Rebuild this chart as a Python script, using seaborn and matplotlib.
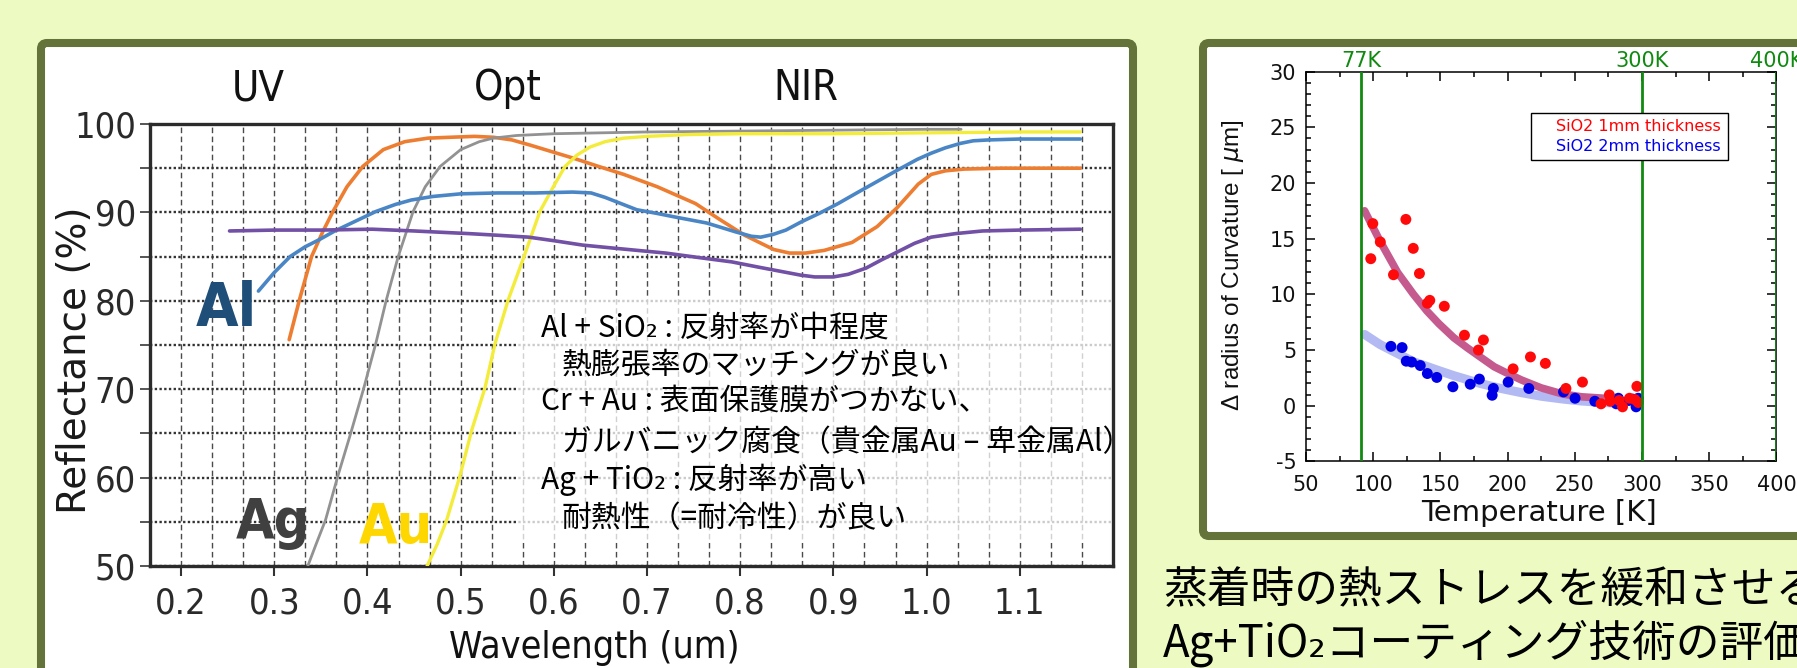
import numpy as np
import pandas as pd
import matplotlib
matplotlib.use("Agg")
import matplotlib.pyplot as plt
import seaborn as sns
from matplotlib import font_manager
from matplotlib.patches import FancyBboxPatch, Rectangle
from matplotlib.ticker import FixedLocator, MultipleLocator
from matplotlib.lines import Line2D

# ---------------- reflectance of mirror coatings (wavelength um, reflectance %) ----------------
orange_wl = [0.316, 0.327, 0.340, 0.352, 0.363, 0.378, 0.395, 0.417, 0.440, 0.465, 0.489, 0.515,
             0.535, 0.555, 0.575, 0.600, 0.622, 0.648, 0.675, 0.711, 0.752, 0.778, 0.805, 0.836,
             0.853, 0.870, 0.890, 0.920, 0.947, 0.969, 0.991, 1.005, 1.020, 1.040, 1.080, 1.120, 1.165]
orange_r = [75.6, 80.1, 85.0, 87.8, 90.1, 92.9, 95.2, 97.1, 98.0, 98.4, 98.5, 98.6,
            98.5, 98.2, 97.6, 96.8, 96.1, 95.2, 94.3, 92.9, 91.0, 89.2, 87.4, 85.8,
            85.4, 85.4, 85.7, 86.6, 88.4, 90.6, 93.2, 94.3, 94.7, 94.9, 95.0, 95.0, 95.0]

al_wl = [0.283, 0.300, 0.317, 0.333, 0.348, 0.365, 0.385, 0.409, 0.430, 0.447, 0.470, 0.500,
         0.540, 0.580, 0.620, 0.640, 0.655, 0.672, 0.689, 0.710, 0.729, 0.764, 0.795, 0.812,
         0.822, 0.835, 0.849, 0.865, 0.885, 0.905, 0.925, 0.947, 0.969, 0.990, 1.005, 1.020,
         1.036, 1.050, 1.067, 1.100, 1.165]
al_r = [81.1, 83.2, 85.0, 86.1, 86.9, 87.9, 88.9, 90.1, 90.9, 91.4, 91.8, 92.1,
        92.2, 92.2, 92.3, 92.2, 91.7, 91.0, 90.3, 89.9, 89.5, 88.8, 87.8, 87.3,
        87.2, 87.5, 88.0, 88.9, 89.9, 91.0, 92.2, 93.5, 94.8, 96.0, 96.7, 97.3,
        97.8, 98.1, 98.2, 98.3, 98.3]

purple_wl = [0.252, 0.300, 0.350, 0.405, 0.450, 0.509, 0.542, 0.573, 0.600, 0.631, 0.660, 0.690,
             0.720, 0.755, 0.791, 0.820, 0.845, 0.865, 0.880, 0.900, 0.916, 0.935, 0.951, 0.970,
             0.987, 1.005, 1.031, 1.060, 1.100, 1.165]
purple_r = [87.9, 88.0, 88.0, 88.1, 87.9, 87.6, 87.4, 87.2, 86.8, 86.3, 86.0, 85.7,
            85.4, 84.9, 84.4, 83.8, 83.3, 82.9, 82.7, 82.7, 83.0, 83.7, 84.6, 85.6,
            86.5, 87.2, 87.6, 87.9, 88.0, 88.1]

ag_wl = [0.336, 0.345, 0.355, 0.368, 0.382, 0.396, 0.409, 0.420, 0.433, 0.449, 0.462, 0.478,
         0.500, 0.520, 0.535, 0.560, 0.600, 0.700, 0.800, 0.900, 1.000, 1.037]
ag_r = [50.0, 52.5, 55.2, 60.1, 65.0, 70.1, 75.2, 80.0, 85.0, 90.1, 92.9, 95.2,
        97.1, 98.0, 98.4, 98.7, 98.9, 99.1, 99.2, 99.3, 99.4, 99.4]

au_wl = [0.464, 0.475, 0.485, 0.499, 0.512, 0.526, 0.537, 0.551, 0.568, 0.585, 0.600, 0.612,
         0.625, 0.639, 0.655, 0.675, 0.700, 0.742, 0.800, 0.900, 1.000, 1.100, 1.165]
au_r = [50.0, 52.5, 55.2, 60.1, 65.4, 70.1, 75.2, 80.1, 85.0, 90.1, 93.0, 95.2,
        96.5, 97.4, 98.0, 98.4, 98.6, 98.8, 98.9, 98.9, 99.0, 99.1, 99.1]

wl_ticks = [0.2, 0.3, 0.4, 0.5, 0.6, 0.7, 0.8, 0.9, 1.0, 1.1]
wl_tick_labels = ["0.2", "0.3", "0.4", "0.5", "0.6", "0.7", "0.8", "0.9", "1.0", "1.1"]
refl_ticks = [50, 60, 70, 80, 90, 100]
refl_tick_labels = ["50", "60", "70", "80", "90", "100"]

band_names = ["UV", "Opt", "NIR"]
band_centres = [0.283, 0.551, 0.870]

note_lines = [
    "Al + SiO₂ : 反射率が中程度",
    "熱膨張率のマッチングが良い",
    "Cr + Au : 表面保護膜がつかない、",
    "ガルバニック腐食（貴金属Au – 卑金属Al）",
    "Ag + TiO₂ : 反射率が高い",
    "耐熱性（=耐冷性）が良い",
]

# ---------------- change of radius of curvature vs temperature ----------------
red_temp = [98.2, 99.7, 105.3, 115.1, 124.3, 129.8, 134.4, 140.3, 142.1, 152.9, 167.9, 178.3,
            182.0, 204.1, 217.0, 228.1, 243.4, 255.7, 269.5, 275.7, 276.3, 283.0, 285.5, 290.7,
            294.7, 296.2, 297.2]
red_drc = [13.2, 16.35, 14.7, 11.76, 16.73, 14.13, 11.87, 9.2, 9.46, 8.93, 6.33, 5.0,
           5.9, 3.31, 4.38, 3.8, 1.55, 2.12, 0.17, 0.97, 0.4, 0.47, -0.1, 0.67,
           0.55, 1.74, 0.29]
blue_temp = [113.2, 121.5, 124.6, 128.6, 135.0, 140.3, 147.3, 159.3, 172.2, 179.0, 188.5, 189.4,
             200.4, 215.8, 241.6, 250.2, 264.9, 280.9, 282.4, 290.1, 293.2, 295.6, 297.2]
blue_drc = [5.33, 5.22, 4.0, 3.92, 3.61, 2.89, 2.54, 1.7, 1.93, 2.39, 0.94, 1.55,
            2.12, 1.55, 1.24, 0.67, 0.4, 0.17, 0.67, 0.47, 0.59, -0.1, 0.67]

red_fit_temp = [93.6, 105.0, 118.2, 130.0, 140.0, 148.9, 160.0, 170.0, 179.6, 190.0, 200.0,
                210.3, 225.0, 241.0, 255.0, 271.7]
red_fit_drc = [17.5, 14.8, 11.95, 10.0, 8.5, 7.36, 6.1, 5.2, 4.38, 3.5, 2.9,
               2.31, 1.6, 1.05, 0.8, 0.67]
blue_fit_temp = [93.6, 105.0, 118.2, 130.0, 148.9, 160.0, 179.6, 195.0, 210.3, 225.0, 241.0,
                 255.0, 271.7, 285.0]
blue_fit_drc = [6.4, 5.5, 4.68, 3.95, 3.15, 2.7, 2.0, 1.55, 1.17, 0.85, 0.6,
                0.42, 0.29, 0.18]

ref_temps = [91, 300, 400]
ref_temp_labels = ["77K", "300K", "400K"]
legend_labels = ["SiO2 1mm thickness", "SiO2 2mm thickness"]

caption_lines = ["蒸着時の熱ストレスを緩和させる", "Ag+TiO₂コーティング技術の評価"]

# ---------------- style ----------------
sns.set_theme(style="white")
plt.rcParams["font.family"] = ["DejaVu Sans"]
plt.rcParams["axes.unicode_minus"] = False

_STRETCH = {"ultra-condensed": 100, "extra-condensed": 200, "condensed": 300,
            "semi-condensed": 400, "normal": 500, "semi-expanded": 600, "expanded": 700,
            "extra-expanded": 800, "ultra-expanded": 900}
_WEIGHT = {"ultralight": 100, "light": 300, "normal": 400, "regular": 400, "book": 400,
           "medium": 500, "roman": 400, "semibold": 600, "demibold": 600, "demi": 600,
           "bold": 700, "heavy": 800, "extra bold": 800, "black": 900}


def _num(v, table, default):
    if isinstance(v, str):
        return table.get(v.lower(), default)
    return int(v)


def condensed_font(bold):
    """Pick an installed condensed sans face, regular or bold."""
    best = None
    for f in font_manager.fontManager.ttflist:
        st = _num(f.stretch, _STRETCH, 500)
        tag = f.name + " " + f.fname
        narrow = st < 500 or any(k in tag for k in ("Narrow", "Condensed", "Compressed"))
        if not narrow or f.style != "normal" or "Mono" in tag or "Serif" in tag:
            continue
        wt = _num(f.weight, _WEIGHT, 400)
        score = abs(wt - (700 if bold else 400))
        if best is None or score < best[0]:
            best = (score, f.fname)
    if best is not None:
        return font_manager.FontProperties(fname=best[1]), True
    return font_manager.FontProperties(family="Liberation Sans",
                                       weight="bold" if bold else "normal"), False


NARROW, HAVE_NARROW = condensed_font(False)
NARROW_BOLD, _ = condensed_font(True)
K = 1.0 if HAVE_NARROW else 0.86   # keep widths close when only a regular face exists


def nfont(size, bold=False):
    p = (NARROW_BOLD if bold else NARROW).copy()
    p.set_size(size * K)
    return p


JP = ["Noto Sans CJK JP", "DejaVu Sans"]
BG = "#EDFBC3"
FRAME = "#64733A"

W, H = 1797, 668
fig = plt.figure(figsize=(W / 100, H / 100), dpi=100)
fig.patch.set_facecolor(BG)

# page layer in pixel units (y downwards) for the framed panels and caption
page = fig.add_axes([0, 0, 1, 1])
page.set_xlim(0, W)
page.set_ylim(H, 0)
page.axis("off")
page.add_patch(FancyBboxPatch((41, 43), 1092, 700, boxstyle="round,pad=0,rounding_size=6",
                              fc="white", ec=FRAME, lw=5.8))
page.add_patch(FancyBboxPatch((1203, 43), 700, 493, boxstyle="round,pad=0,rounding_size=6",
                              fc="white", ec=FRAME, lw=5.8))
for i, line in enumerate(caption_lines):
    page.text(1163, 590 + i * 53, line, fontfamily=JP, fontsize=31.5, color="black",
              ha="left", va="center")

# ---------------- left panel: reflectance ----------------
axL = fig.add_axes([150 / W, 1 - 566 / H, 963 / W, 442 / H])
axL.set_facecolor("white")
axL.set_xlim(1 / 6, 1.2)
axL.set_ylim(50, 100)
axL.set_axisbelow(True)

axL.xaxis.set_major_locator(FixedLocator(wl_ticks))
axL.set_xticklabels(wl_tick_labels)
axL.xaxis.set_minor_locator(FixedLocator(np.arange(1 / 6, 1.2 + 1e-6, 1 / 30)))
axL.yaxis.set_major_locator(FixedLocator(refl_ticks))
axL.set_yticklabels(refl_tick_labels)
axL.yaxis.set_minor_locator(MultipleLocator(5))

axL.grid(axis="x", which="both", color="#4a4a4a", lw=1.0, ls=(0, (4, 2.5)))
axL.grid(axis="y", which="both", color="#333333", lw=1.7, ls=(0, (1, 1)))

axL.tick_params(axis="x", which="major", direction="out", length=7, width=1.5,
                color="#333333", pad=8, labelcolor="#2a2a2a", bottom=True)
axL.tick_params(axis="x", which="minor", length=0)
axL.tick_params(axis="y", which="both", direction="out", length=7, width=1.4,
                color="#555555", pad=3, labelcolor="#2a2a2a", left=True)
for lbl in axL.get_xticklabels() + axL.get_yticklabels():
    lbl.set_fontproperties(nfont(26))
for sp in axL.spines.values():
    sp.set_color("#2b2b2b")
    sp.set_linewidth(2.4)

axL.add_patch(Rectangle((0.5605, 52.6), 1.2 - 0.5605, 80.4 - 52.6, fc="white", ec="none",
                        alpha=0.75, zorder=1.5))

curves = [
    (orange_wl, orange_r, "#ED7D31", 2.6),
    (ag_wl, ag_r, "#929292", 2.0),
    (au_wl, au_r, "#F4EC3A", 2.4),
    (al_wl, al_r, "#4A86C5", 2.6),
    (purple_wl, purple_r, "#7150A5", 2.6),
]
for wl, r, col, lw in curves:
    df = pd.DataFrame({"wavelength": wl, "reflectance": r})
    sns.lineplot(data=df, x="wavelength", y="reflectance", ax=axL, color=col, lw=lw,
                 sort=False, estimator=None, zorder=3)

axL.set_xlabel("Wavelength (um)", fontproperties=nfont(27), color="#111111", va="center")
axL.xaxis.set_label_coords(0.461, -0.1855)
axL.set_ylabel("Reflectance (%)", fontfamily="DejaVu Sans", fontsize=28, color="#1a1a1a",
               va="center")
axL.yaxis.set_label_coords(-0.0774, 0.466)

for name, xc in zip(band_names, band_centres):
    axL.text(xc, 102.7, name, fontproperties=nfont(30), color="#111111",
             ha="center", va="baseline", clip_on=False)

axL.text(0.249, 77.15, "Al", fontproperties=nfont(44, True), color="#1F4E79",
         ha="center", va="baseline")
axL.text(0.299, 53.2, "Ag", fontproperties=nfont(40, True), color="#404040",
         ha="center", va="baseline")
axL.text(0.430, 52.6, "Au", fontproperties=nfont(40, True), color="#FFD700",
         ha="center", va="baseline")

note_x = [0.5863, 0.6088, 0.5863, 0.6088, 0.5863, 0.6088]
note_y = [76.9, 72.7, 68.6, 64.0, 59.7, 55.4]
for x, y, line in zip(note_x, note_y, note_lines):
    axL.text(x, y, line, fontfamily=JP, fontsize=21.5, color="black", ha="left",
             va="center", zorder=4, clip_on=False)

# ---------------- right panel: curvature change ----------------
axR = fig.add_axes([1306 / W, 1 - 461.4 / H, 470.4 / W, 389.8 / H])
axR.set_facecolor("white")
axR.set_xlim(50, 400)
axR.set_ylim(-5, 30)
axR.xaxis.set_major_locator(MultipleLocator(50))
axR.xaxis.set_minor_locator(MultipleLocator(25))
axR.yaxis.set_major_locator(MultipleLocator(5))
axR.yaxis.set_minor_locator(MultipleLocator(1))
axR.tick_params(which="both", direction="in", top=True, right=True, bottom=True, left=True,
                color="black", width=1.1, labelcolor="#111111", labelsize=15)
axR.tick_params(which="major", length=6.5)
axR.tick_params(which="minor", length=3.5)
axR.tick_params(axis="x", pad=10)
axR.tick_params(axis="y", pad=7)
for sp in axR.spines.values():
    sp.set_color("black")
    sp.set_linewidth(1.1)

sns.lineplot(x=blue_fit_temp, y=blue_fit_drc, ax=axR, color="#B3BAF3", lw=6.5,
             sort=False, estimator=None, solid_capstyle="round", zorder=2)
sns.lineplot(x=red_fit_temp, y=red_fit_drc, ax=axR, color="#C45A8E", lw=5.5,
             sort=False, estimator=None, solid_capstyle="round", zorder=2.5)
sns.scatterplot(x=blue_temp, y=blue_drc, ax=axR, color="#0000E6", s=62, edgecolor="none",
                zorder=4)
sns.scatterplot(x=red_temp, y=red_drc, ax=axR, color="#FF0A0A", s=62, edgecolor="none",
                zorder=4.5)

for t, lab in zip(ref_temps, ref_temp_labels):
    axR.axvline(t, color="#108A10", lw=2.0, zorder=5)
    axR.text(t, 1.011, lab, transform=axR.get_xaxis_transform(), color="#108A10",
             fontsize=15, ha="center", va="baseline", clip_on=False)

axR.set_xlabel("Temperature [K]", fontsize=21, color="#111111", va="center")
axR.xaxis.set_label_coords(0.4947, -0.1334)
axR.set_ylabel("Δ radius of Curvature [ $\\mu$m]", fontfamily="Liberation Sans", fontsize=17.5,
               color="#111111", va="center")
axR.yaxis.set_label_coords(-0.156, 0.504)

handles = [Line2D([], [], lw=0, label=lab) for lab in legend_labels]
leg = axR.legend(handles=handles, loc="upper left", bbox_to_anchor=(0.478, 0.895),
                 borderaxespad=0, frameon=True, fancybox=False, edgecolor="black",
                 fontsize=11.5, handlelength=0.7, handletextpad=0.5, labelspacing=0.3,
                 borderpad=0.4, labelcolor=["#FF0000", "#0000EE"], framealpha=1)
leg.get_frame().set_linewidth(1.0)
leg.set_zorder(6)

fig.savefig("out.png", dpi=100, facecolor=fig.get_facecolor())
